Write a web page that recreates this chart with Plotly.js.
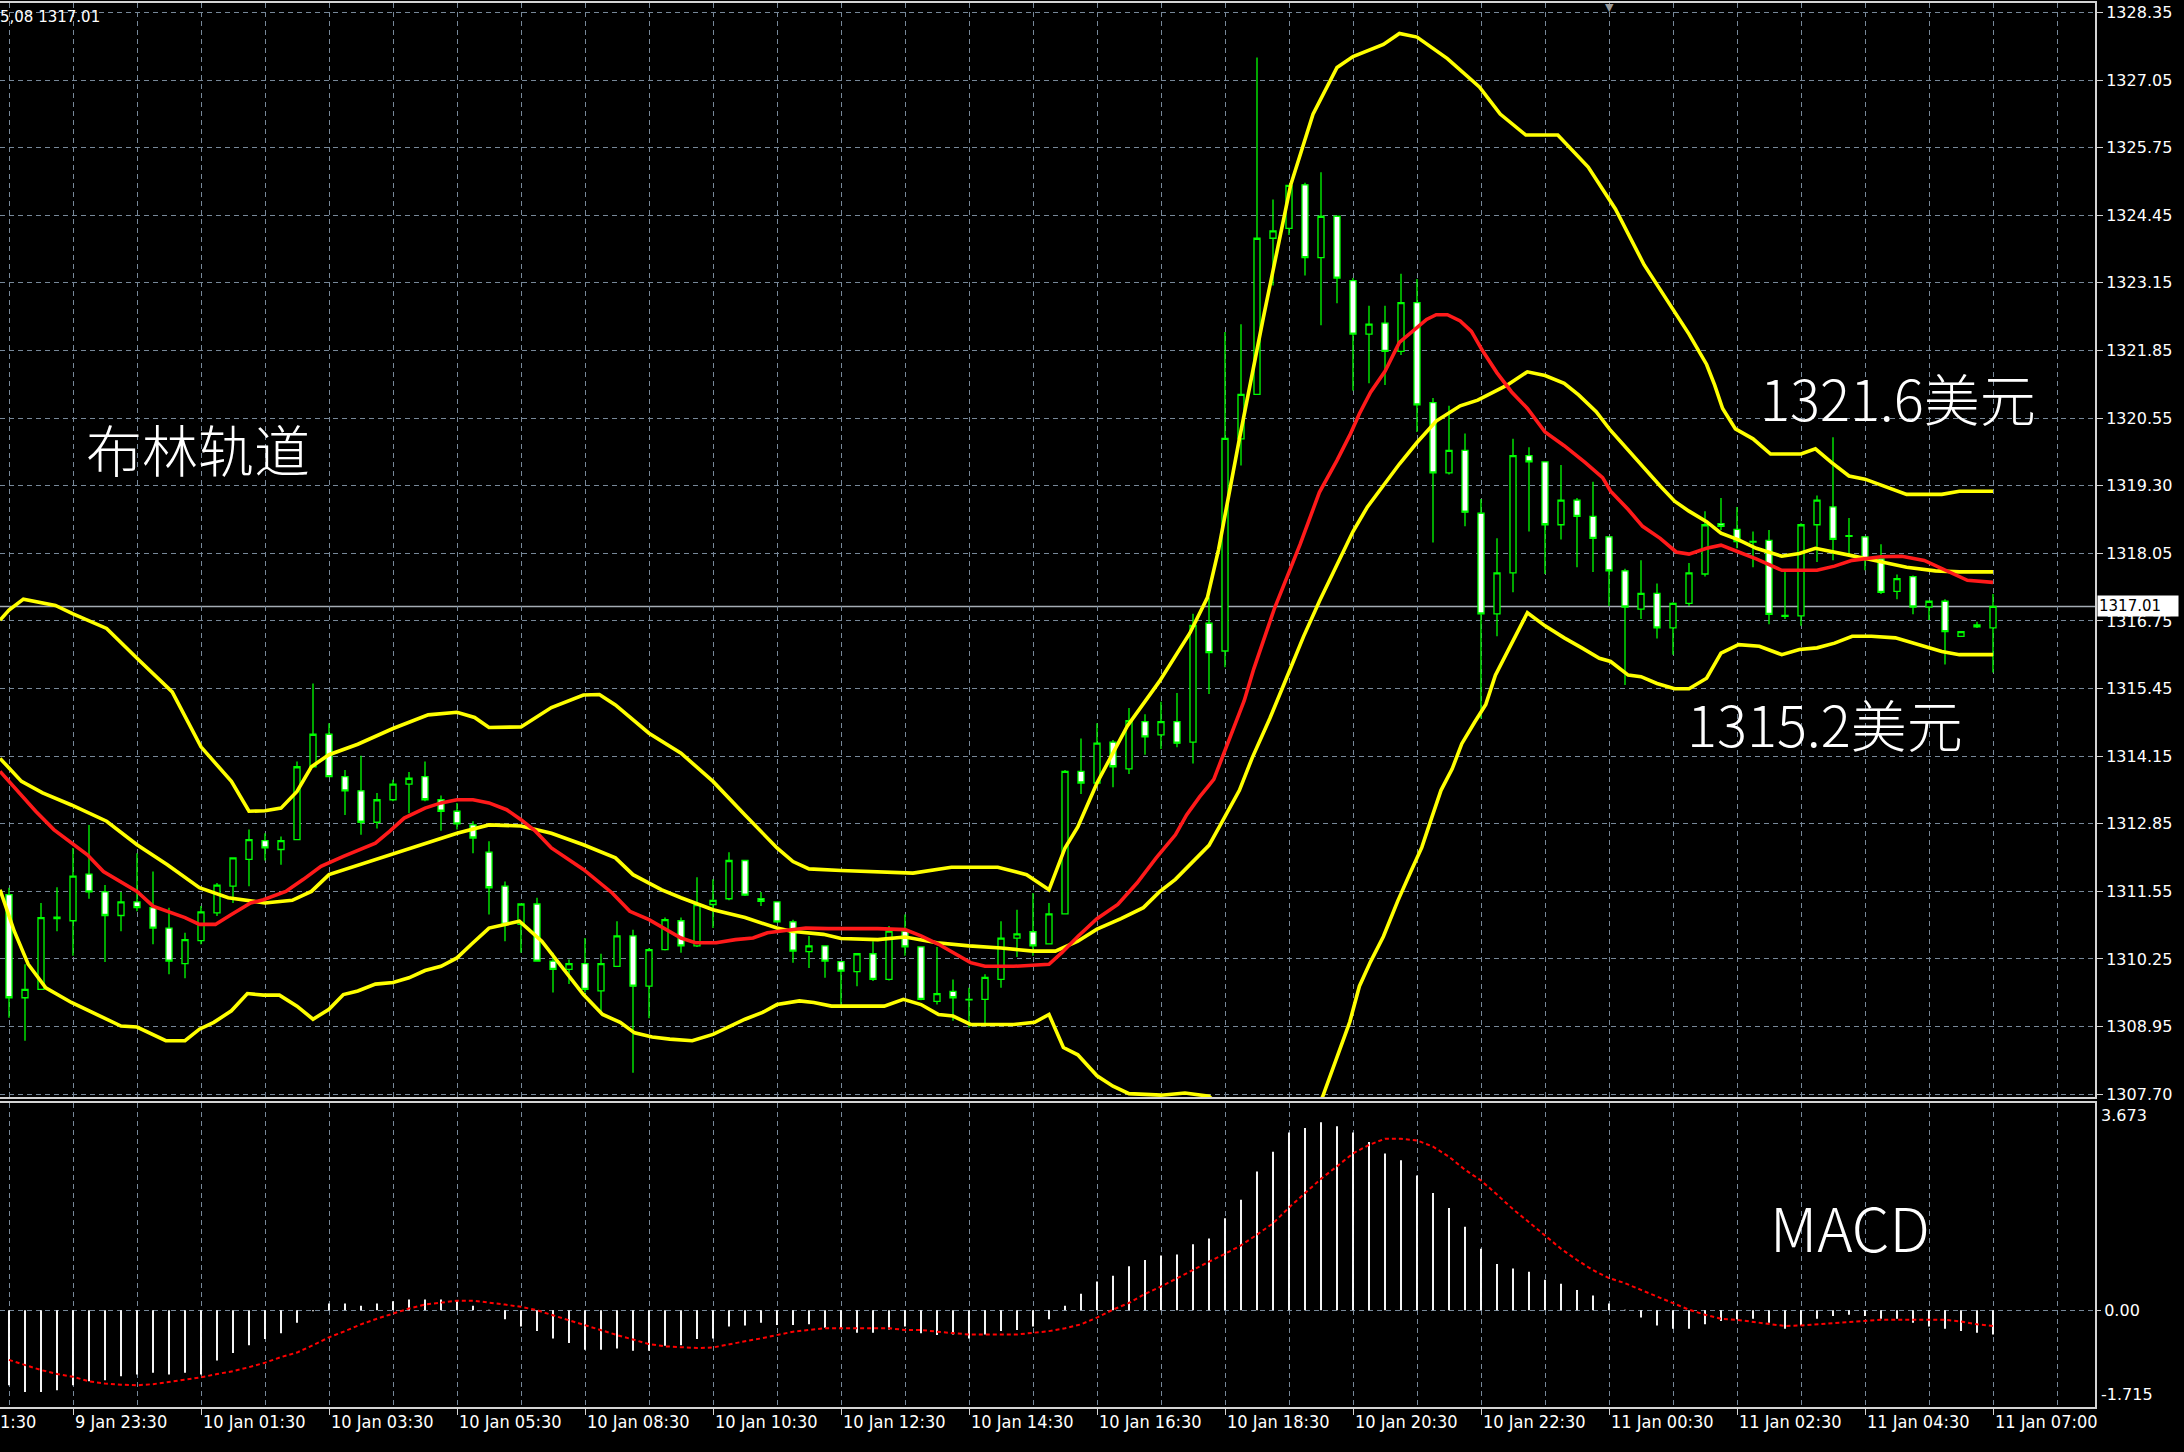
<!DOCTYPE html>
<html>
<head>
<meta charset="utf-8">
<script src="https://cdn.plot.ly/plotly-3.0.1.min.js"></script>
<style>
html,body{margin:0;padding:0;background:#000;}
#chart{width:2184px;height:1452px;}
</style>
</head>
<body>
<div id="chart"></div>
<script>
// ---------------- DATA ----------------
const priceTickLabels = ['1328.35','1327.05','1325.75','1324.45','1323.15','1321.85','1320.55','1319.30','1318.05','1316.75','1315.45','1314.15','1312.85','1311.55','1310.25','1308.95','1307.70'];
const timeTickBars = [-4,4,12,20,28,36,44,52,60,68,76,84,92,100,108,116,124];
const timeTickLabels = ['1:30','9 Jan 23:30','10 Jan 01:30','10 Jan 03:30','10 Jan 05:30','10 Jan 08:30','10 Jan 10:30','10 Jan 12:30','10 Jan 14:30','10 Jan 16:30','10 Jan 18:30','10 Jan 20:30','10 Jan 22:30','11 Jan 00:30','11 Jan 02:30','11 Jan 04:30','11 Jan 07:00'];
const gridBars = [0,4,8,12,16,20,24,28,32,36,40,44,48,52,56,60,64,68,72,76,80,84,88,92,96,100,104,108,112,116,120,124,128];
const lastPrice = 1317.01;
const headerText = '5,08 1317.01';

const open = [
1311.51,1309.54,1309.70,1311.05,1311.01,1311.90,1311.56,1311.11,1311.37,1311.26,
1310.87,1310.19,1310.63,1311.16,1311.67,1312.18,1312.54,1312.37,1312.56,1313.95,
1314.57,1313.76,1313.49,1312.89,1313.32,1313.62,1313.76,1313.32,1313.10,1312.84,
1312.32,1311.67,1310.94,1311.33,1310.24,1310.08,1310.19,1309.67,1310.14,1310.72,
1309.76,1310.46,1311.01,1310.53,1311.32,1311.43,1312.16,1311.43,1311.37,1310.99,
1310.42,1310.53,1310.23,1310.04,1310.38,1309.89,1310.81,1310.51,1309.47,1309.66,
1309.51,1309.51,1309.89,1310.68,1310.80,1310.57,1311.14,1313.86,1313.64,1314.42,
1313.91,1314.81,1314.56,1314.81,1314.42,1316.69,1316.16,1320.21,1321.06,1324.04,
1324.23,1325.06,1323.67,1324.46,1323.23,1322.21,1322.42,1321.88,1322.81,1320.90,
1319.56,1319.99,1318.79,1316.87,1317.65,1319.89,1319.77,1318.57,1319.04,1318.73,
1318.34,1317.69,1316.96,1317.26,1316.60,1317.07,1317.63,1318.59,1318.48,1318.25,
1318.27,1316.84,1316.83,1318.57,1318.91,1318.36,1318.34,1317.92,1317.30,1317.58,
1317.00,1317.11,1316.44,1316.62,1316.60];
const high = [
1311.64,1310.18,1311.35,1311.65,1312.40,1312.84,1311.69,1311.56,1312.30,1311.95,
1311.26,1310.78,1311.29,1311.73,1312.21,1312.75,1312.68,1312.62,1314.05,1315.54,
1314.78,1313.89,1314.16,1313.45,1313.70,1313.85,1314.05,1313.40,1313.26,1312.91,
1312.53,1311.76,1311.33,1311.45,1310.40,1310.27,1310.68,1310.38,1311.00,1310.84,
1310.49,1311.07,1311.07,1311.84,1311.80,1312.32,1312.16,1311.56,1311.37,1311.03,
1310.72,1310.53,1310.23,1310.38,1310.62,1310.91,1311.13,1310.51,1310.51,1309.89,
1309.73,1309.99,1311.00,1311.22,1311.54,1311.35,1313.89,1314.49,1314.78,1314.46,
1315.07,1314.95,1315.19,1315.36,1316.87,1317.18,1322.25,1322.40,1327.49,1324.78,
1325.05,1325.10,1325.30,1324.46,1323.28,1322.75,1322.75,1323.36,1323.26,1320.99,
1320.84,1320.31,1319.06,1318.31,1320.21,1320.05,1319.77,1319.71,1319.08,1319.39,
1318.34,1317.73,1317.89,1317.45,1317.09,1317.84,1318.83,1319.08,1318.91,1318.44,
1318.47,1317.70,1318.60,1319.13,1320.24,1318.70,1318.34,1318.20,1317.62,1317.60,
1317.12,1317.15,1316.54,1316.72,1317.25];
const low = [
1309.16,1308.72,1309.70,1310.81,1310.34,1311.43,1310.22,1310.81,1311.19,1310.56,
1309.99,1309.91,1310.56,1311.10,1311.35,1311.67,1312.16,1312.08,1312.56,1313.95,
1313.76,1313.03,1312.65,1312.77,1313.29,1313.06,1313.29,1312.73,1312.75,1312.30,
1311.13,1310.62,1310.40,1310.24,1309.64,1309.80,1309.64,1309.22,1310.13,1308.11,
1309.15,1310.44,1310.40,1310.51,1310.87,1311.40,1311.48,1311.29,1310.97,1310.21,
1310.11,1309.92,1309.41,1309.76,1309.86,1309.87,1310.34,1309.49,1309.41,1309.10,
1308.97,1309.03,1309.73,1310.32,1310.34,1310.56,1311.14,1313.43,1313.64,1313.56,
1313.81,1314.18,1314.29,1314.32,1314.01,1315.34,1315.85,1319.70,1321.06,1323.14,
1324.10,1323.33,1322.38,1322.80,1321.13,1321.27,1321.24,1321.81,1320.34,1318.23,
1319.53,1318.54,1314.87,1316.44,1317.28,1318.44,1317.63,1318.29,1317.76,1317.67,
1317.02,1315.51,1316.77,1316.40,1316.09,1317.02,1317.58,1318.47,1318.12,1317.76,
1316.67,1316.77,1316.64,1317.86,1317.89,1317.96,1317.70,1317.25,1317.15,1316.86,
1316.75,1315.90,1316.43,1316.60,1315.75];
const close = [
1309.54,1309.70,1311.07,1311.08,1311.86,1311.56,1311.11,1311.37,1311.26,1310.87,
1310.24,1310.65,1311.18,1311.69,1312.21,1312.56,1312.40,1312.54,1313.95,1314.57,
1313.76,1313.49,1312.89,1313.32,1313.62,1313.73,1313.32,1313.10,1312.86,1312.59,
1311.64,1310.94,1311.33,1310.24,1310.08,1310.19,1309.70,1310.19,1310.72,1309.76,
1310.46,1311.03,1310.53,1311.32,1311.40,1312.16,1311.50,1311.38,1310.99,1310.43,
1310.53,1310.24,1310.05,1310.38,1309.89,1310.81,1310.51,1309.51,1309.62,1309.54,
1309.50,1309.93,1310.68,1310.76,1310.53,1311.14,1313.86,1313.64,1314.40,1313.95,
1314.83,1314.52,1314.81,1314.40,1316.65,1316.13,1320.22,1321.06,1324.04,1324.18,
1325.05,1323.67,1324.46,1323.28,1322.21,1322.40,1321.88,1322.81,1320.86,1319.56,
1319.99,1318.81,1316.87,1317.65,1319.89,1319.77,1318.57,1319.04,1318.73,1318.31,
1317.69,1317.00,1317.26,1316.60,1317.07,1317.65,1318.57,1318.54,1318.25,1318.24,
1316.86,1316.82,1318.57,1319.04,1318.29,1318.35,1317.92,1317.28,1317.54,1317.00,
1317.11,1316.53,1316.53,1316.66,1317.01];

// Bollinger upper / middle / lower (yellow) and moving average (red), read at bar positions
const upperBandX = [-0.56,0,0.9,2.9,4.0,6.1,8.0,10.2,12.0,13.9,15.0,16.0,17.0,18.0,18.9,20.0,21.8,24.0,26.2,28.0,29.1,30.0,32.0,33.9,35.9,36.9,37.9,40.0,42.0,44.0,46.0,48.0,49.0,50.0,52.0,54.3,56.5,58.9,61.8,63.6,65.0,66.0,66.8,68.0,69.9,71.9,73.8,74.9,75.6,76.9,78.4,80.1,81.5,83.0,84.0,85.9,86.9,88.0,89.9,91.9,93.2,94.8,96.8,98.7,100.4,102.2,103.9,105.0,106.1,106.6,107.1,107.9,109.0,110.1,112.0,112.9,113.9,115.0,116.0,117.5,118.6,120.8,121.9,124.0];
const upperBandY = [1316.75,1316.94,1317.15,1317.03,1316.87,1316.59,1316.02,1315.38,1314.33,1313.67,1313.10,1313.11,1313.16,1313.48,1313.95,1314.18,1314.38,1314.68,1314.94,1314.99,1314.89,1314.70,1314.71,1315.08,1315.32,1315.33,1315.13,1314.59,1314.21,1313.67,1313.03,1312.40,1312.14,1312.00,1311.97,1311.95,1311.92,1312.03,1312.03,1311.89,1311.60,1312.40,1312.80,1313.64,1314.73,1315.58,1316.50,1317.18,1318.10,1320.21,1322.53,1325.05,1326.41,1327.30,1327.51,1327.74,1327.95,1327.88,1327.47,1326.93,1326.41,1326.01,1326.01,1325.40,1324.60,1323.53,1322.74,1322.21,1321.63,1321.24,1320.79,1320.40,1320.21,1319.92,1319.92,1320.02,1319.76,1319.50,1319.44,1319.28,1319.15,1319.15,1319.21,1319.21];
const middleBandX = [-0.56,0.78,2.1,3.9,6.1,8.0,9.9,11.9,13.7,16.0,17.7,18.9,20.0,22.0,24.0,26.0,28.0,30.0,32.0,33.9,35.9,37.9,39.0,40.8,42.0,44.0,46.0,48.0,48.9,50.9,52.0,54.3,56.0,58.0,60.0,62.0,64.0,65.4,66.8,68.0,69.5,70.9,71.9,72.9,74.0,75.0,75.8,76.9,77.7,78.8,79.8,80.9,81.9,82.9,84.0,84.9,85.9,86.9,88.0,89.2,90.7,91.8,93.6,94.9,96.0,97.2,98.1,99.2,100.1,101.2,102.3,103.2,104.1,105.0,106.1,107.0,108.1,109.2,110.8,111.9,112.9,113.9,115.0,116.1,117.0,118.6,120.4,121.9,124.0];
const middleBandY = [1314.11,1313.67,1313.45,1313.22,1312.91,1312.46,1312.08,1311.64,1311.45,1311.35,1311.40,1311.57,1311.89,1312.09,1312.28,1312.49,1312.68,1312.84,1312.82,1312.68,1312.46,1312.21,1311.89,1311.60,1311.45,1311.22,1311.07,1310.87,1310.81,1310.75,1310.67,1310.65,1310.70,1310.59,1310.53,1310.49,1310.43,1310.43,1310.62,1310.85,1311.05,1311.26,1311.56,1311.80,1312.14,1312.45,1312.89,1313.50,1314.12,1314.87,1315.61,1316.43,1317.11,1317.73,1318.44,1318.91,1319.32,1319.73,1320.14,1320.55,1320.84,1320.95,1321.23,1321.49,1321.42,1321.27,1321.05,1320.73,1320.37,1319.99,1319.60,1319.31,1319.02,1318.83,1318.63,1318.41,1318.28,1318.12,1317.97,1318.02,1318.12,1318.05,1317.99,1317.92,1317.86,1317.76,1317.69,1317.67,1317.67];
const lowerBandX = [-0.56,0.33,1.2,2.3,3.9,5.5,7.0,8.0,8.8,9.8,11.0,11.9,12.8,13.9,14.9,15.9,16.9,18.0,19.0,20.0,20.9,21.8,22.9,24.0,25.0,26.0,27.0,28.0,28.9,30.0,31.0,31.9,33.3,34.6,35.9,37.1,38.2,39.1,40.2,41.3,42.7,44.0,45.1,46.0,47.1,48.0,49.4,50.3,51.4,52.9,54.7,55.9,57.0,58.1,59.0,60.1,61.0,62.8,64.1,65.0,65.9,66.8,68.0,69.0,70.0,72.0,73.5,75.0,76.5,78.5,80.5,81.5,82.1,83.0,83.8,84.4,85.1,85.9,86.8,87.6,88.3,88.9,89.5,90.2,90.8,91.6,92.3,92.9,94.0,94.9,96.0,97.2,98.3,99.4,100.1,101.2,102.0,103.0,104.1,105.0,106.1,107.0,108.1,109.4,110.8,111.9,113.0,114.1,115.2,116.4,117.9,119.7,120.8,121.9,124.0];
const lowerBandY = [1311.60,1310.81,1310.18,1309.73,1309.45,1309.22,1309.00,1308.98,1308.87,1308.72,1308.72,1308.94,1309.07,1309.29,1309.62,1309.59,1309.59,1309.38,1309.13,1309.32,1309.60,1309.67,1309.80,1309.83,1309.92,1310.06,1310.14,1310.30,1310.56,1310.87,1310.94,1311.00,1310.62,1310.11,1309.60,1309.22,1309.07,1308.87,1308.79,1308.75,1308.72,1308.84,1309.00,1309.13,1309.26,1309.41,1309.48,1309.45,1309.38,1309.38,1309.38,1309.51,1309.41,1309.22,1309.19,1309.03,1309.03,1309.03,1309.07,1309.22,1308.59,1308.45,1308.05,1307.85,1307.71,1307.68,1307.72,1307.66,1307.20,1306.60,1306.80,1307.30,1307.65,1308.40,1309.08,1309.76,1310.23,1310.71,1311.39,1311.94,1312.41,1312.96,1313.50,1313.91,1314.39,1314.80,1315.14,1315.70,1316.35,1316.89,1316.64,1316.41,1316.22,1316.02,1315.96,1315.70,1315.67,1315.54,1315.44,1315.44,1315.64,1316.12,1316.28,1316.25,1316.09,1316.19,1316.22,1316.31,1316.44,1316.44,1316.41,1316.25,1316.15,1316.09,1316.09];
const maX = [-0.56,0.55,1.67,2.8,3.9,4.9,5.9,7.0,8.0,9.0,9.9,11.0,11.9,12.9,13.9,15.1,15.9,17.3,18.4,19.5,20.9,22.0,22.9,23.8,24.7,26.0,27.0,28.0,29.0,30.0,31.1,32.0,32.9,33.9,35.9,37.7,38.8,40.0,41.1,42.0,42.9,44.2,45.4,46.5,47.4,48.9,49.8,51.2,53.0,54.3,56.0,57.0,58.1,59.2,60.1,61.0,62.8,65.0,65.8,66.8,68.0,69.3,70.5,71.7,72.9,73.6,74.4,75.3,75.9,76.5,77.2,77.8,78.4,79.1,79.9,80.7,81.9,83.0,83.8,84.4,85.1,86.0,86.9,87.8,88.6,89.2,89.9,90.7,91.4,92.1,93.0,93.9,94.9,96.0,97.2,98.5,99.6,100.1,101.2,102.1,103.2,104.2,105.0,106.1,107.0,108.1,109.2,110.8,112.1,113.0,114.1,115.2,117.0,118.3,119.7,121.0,122.4,124.0];
const maY = [1313.86,1313.48,1313.10,1312.75,1312.49,1312.27,1311.95,1311.76,1311.57,1311.29,1311.19,1311.07,1310.94,1310.94,1311.13,1311.35,1311.41,1311.57,1311.80,1312.05,1312.24,1312.37,1312.49,1312.72,1312.97,1313.16,1313.26,1313.32,1313.32,1313.26,1313.13,1312.94,1312.72,1312.40,1311.99,1311.54,1311.19,1311.03,1310.84,1310.68,1310.59,1310.59,1310.65,1310.68,1310.78,1310.84,1310.87,1310.86,1310.87,1310.86,1310.84,1310.72,1310.56,1310.37,1310.21,1310.14,1310.14,1310.18,1310.40,1310.71,1311.05,1311.32,1311.73,1312.21,1312.65,1313.03,1313.37,1313.71,1314.18,1314.66,1315.21,1315.82,1316.36,1316.98,1317.59,1318.20,1319.19,1319.80,1320.28,1320.69,1321.10,1321.50,1322.05,1322.29,1322.49,1322.58,1322.58,1322.46,1322.26,1321.89,1321.47,1321.11,1320.79,1320.34,1320.08,1319.76,1319.47,1319.21,1318.86,1318.54,1318.31,1318.05,1318.01,1318.12,1318.18,1318.05,1317.92,1317.70,1317.70,1317.70,1317.78,1317.89,1317.96,1317.97,1317.89,1317.70,1317.51,1317.47];

// MACD histogram (white) and signal (red dotted)
const macdHist = [
-1.33,-1.45,-1.45,-1.42,-1.33,-1.26,-1.24,-1.17,-1.14,-1.11,
-1.14,-1.11,-1.14,-0.89,-0.76,-0.62,-0.51,-0.41,-0.22,-0.02,
0.12,0.12,0.08,0.12,0.16,0.19,0.19,0.19,0.17,0.08,
0.01,-0.16,-0.29,-0.37,-0.50,-0.58,-0.70,-0.70,-0.68,-0.72,
-0.72,-0.63,-0.62,-0.51,-0.50,-0.29,-0.27,-0.22,-0.26,-0.26,
-0.25,-0.31,-0.33,-0.40,-0.40,-0.34,-0.29,-0.41,-0.44,-0.43,
-0.50,-0.43,-0.37,-0.35,-0.29,-0.16,0.08,0.29,0.51,0.61,
0.78,0.89,0.97,0.99,1.17,1.27,1.63,1.96,2.46,2.81,
3.15,3.23,3.33,3.26,3.15,2.98,2.78,2.66,2.39,2.08,
1.81,1.48,1.09,0.82,0.74,0.68,0.54,0.47,0.36,0.26,
0.12,0.01,-0.13,-0.27,-0.33,-0.33,-0.25,-0.19,-0.16,-0.15,
-0.22,-0.33,-0.27,-0.15,-0.10,-0.08,-0.10,-0.15,-0.15,-0.22,
-0.29,-0.33,-0.37,-0.40,-0.43];
const macdSignal = [
-0.88,-0.97,-1.06,-1.13,-1.18,-1.26,-1.30,-1.32,-1.33,-1.31,
-1.27,-1.23,-1.19,-1.13,-1.08,-1.01,-0.93,-0.83,-0.75,-0.62,
-0.48,-0.37,-0.25,-0.15,-0.06,0.03,0.10,0.14,0.17,0.17,
0.14,0.10,0.06,0.00,-0.09,-0.18,-0.27,-0.35,-0.44,-0.52,
-0.60,-0.64,-0.66,-0.67,-0.66,-0.60,-0.55,-0.50,-0.44,-0.38,
-0.35,-0.32,-0.32,-0.32,-0.32,-0.32,-0.35,-0.35,-0.38,-0.40,
-0.43,-0.43,-0.43,-0.43,-0.40,-0.37,-0.32,-0.25,-0.13,0.01,
0.13,0.29,0.42,0.57,0.71,0.86,1.00,1.15,1.34,1.54,
1.82,2.08,2.33,2.55,2.78,2.93,3.04,3.04,3.01,2.90,
2.72,2.49,2.30,2.05,1.79,1.56,1.32,1.09,0.89,0.71,
0.57,0.48,0.36,0.24,0.13,0.01,-0.08,-0.15,-0.17,-0.21,
-0.25,-0.28,-0.27,-0.25,-0.22,-0.21,-0.18,-0.17,-0.17,-0.17,
-0.17,-0.17,-0.20,-0.25,-0.28];
const macdMaxLabel = '3.673', macdMinLabel = '-1.715';

// ---------------- CHART ----------------
const bars = open.map((v, i) => i);
const X0 = -0.5625, X1 = 130.375;
const pTop = parseFloat(priceTickLabels[0]);
const pBot = parseFloat(priceTickLabels[priceTickLabels.length - 1]);
const priceTickVals = priceTickLabels.map((t, k) => pTop - k * (pTop - pBot) / (priceTickLabels.length - 1));

const GRID = '#778899';
const FRAME = '#d4d4d4';
const YELLOW = '#ffff00';
const RED = '#ff1a1a';
const GREEN = '#00ff00';

const traces = [
  {type:'candlestick', x:bars, open:open, high:high, low:low, close:close,
   xaxis:'x', yaxis:'y', whiskerwidth:0, hoverinfo:'skip',
   increasing:{line:{color:GREEN, width:1.3}, fillcolor:'#000000'},
   decreasing:{line:{color:GREEN, width:1.3}, fillcolor:'#ffffff'}},
  {type:'scatter', mode:'lines', x:upperBandX, y:upperBandY, xaxis:'x', yaxis:'y', line:{color:YELLOW, width:3.6}, hoverinfo:'skip'},
  {type:'scatter', mode:'lines', x:middleBandX, y:middleBandY, xaxis:'x', yaxis:'y', line:{color:YELLOW, width:3.6}, hoverinfo:'skip'},
  {type:'scatter', mode:'lines', x:lowerBandX, y:lowerBandY, xaxis:'x', yaxis:'y', line:{color:YELLOW, width:3.6}, hoverinfo:'skip'},
  {type:'scatter', mode:'lines', x:maX, y:maY, xaxis:'x', yaxis:'y', line:{color:RED, width:3.6}, hoverinfo:'skip'},
  {type:'bar', x:bars, y:macdHist, xaxis:'x2', yaxis:'y2', width:0.12, marker:{color:'#ffffff', line:{width:0}}, hoverinfo:'skip'},
  {type:'scatter', mode:'lines', x:bars, y:macdSignal, xaxis:'x2', yaxis:'y2', line:{color:'#ff0000', width:2, dash:'4px,3px'}, hoverinfo:'skip'}
];

const PLOT_W = 2095, PLOT_TOP = 3, PLOT_BOTTOM = 1407, PLOT_H = PLOT_BOTTOM - PLOT_TOP;
const pxX = px => px / PLOT_W;
const pxY = py => (PLOT_BOTTOM - py) / PLOT_H;
const barToPaper = b => (b - X0) / (X1 - X0);

const axisFont = {family:'DejaVu Sans, Verdana, sans-serif', size:16, color:'#ffffff'};
const timeFont = {family:'Liberation Sans Narrow, DejaVu Sans Condensed, Arial Narrow, sans-serif', size:18, color:'#ffffff'};
const cjkFont = {family:'Noto Sans CJK SC, Noto Sans, sans-serif', size:56, color:'#ffffff', weight:300};

const annotations = [];
timeTickBars.forEach((b, k) => {
  const left = b < X0;
  annotations.push({xref:'paper', yref:'paper', x:left ? 0 : barToPaper(b), y:pxY(1409), xanchor:'left', yanchor:'top',
    text:timeTickLabels[k], showarrow:false, font:timeFont, xshift:left ? -2 : 0});
});
annotations.push({xref:'paper', yref:'y', x:1, y:lastPrice, xanchor:'left', yanchor:'middle', xshift:2,
  text:lastPrice.toFixed(2), showarrow:false, bgcolor:'#ffffff', font:{family:'DejaVu Sans, sans-serif', size:15, color:'#000000'},
  width:78, align:'left', borderpad:1});
annotations.push({xref:'paper', yref:'paper', x:1, y:pxY(1104), xanchor:'left', yanchor:'top', xshift:4,
  text:macdMaxLabel, showarrow:false, font:axisFont});
annotations.push({xref:'paper', yref:'paper', x:1, y:pxY(1406), xanchor:'left', yanchor:'bottom', xshift:4,
  text:macdMinLabel, showarrow:false, font:axisFont});
annotations.push({xref:'paper', yref:'paper', x:0, y:pxY(6), xanchor:'left', yanchor:'top', xshift:-2,
  text:headerText, showarrow:false, font:{family:'DejaVu Sans, sans-serif', size:15, color:'#ffffff'}});
annotations.push({xref:'paper', yref:'paper', x:barToPaper(100), y:1, xanchor:'center', yanchor:'top', yshift:4,
  text:'▼', showarrow:false, font:{family:'DejaVu Sans, sans-serif', size:11, color:'#9a9a9a'}});
annotations.push({xref:'paper', yref:'paper', x:pxX(84), y:pxY(448), xanchor:'left', yanchor:'middle',
  text:'布林轨道', showarrow:false, font:cjkFont});
annotations.push({xref:'paper', yref:'paper', x:pxX(1758), y:pxY(396), xanchor:'left', yanchor:'middle',
  text:'1321.6美元', showarrow:false, font:cjkFont});
annotations.push({xref:'paper', yref:'paper', x:pxX(1685), y:pxY(722), xanchor:'left', yanchor:'middle',
  text:'1315.2美元', showarrow:false, font:cjkFont});
annotations.push({xref:'paper', yref:'paper', x:pxX(1768), y:pxY(1225), xanchor:'left', yanchor:'middle',
  text:'MACD', showarrow:false, font:{family:'Noto Sans CJK SC, Noto Sans, sans-serif', size:60, color:'#ffffff', weight:300}});

const layout = {
  width:2184, height:1452,
  paper_bgcolor:'#000000', plot_bgcolor:'#000000',
  margin:{l:0, r:89, t:PLOT_TOP, b:1452 - PLOT_BOTTOM, pad:0},
  showlegend:false,
  boxgap:0.46,
  xaxis:{domain:[0,1], anchor:'y', range:[X0, X1], type:'linear',
    tickmode:'array', tickvals:gridBars, showticklabels:false, ticks:'',
    showgrid:true, gridcolor:GRID, gridwidth:1, griddash:'5px,4px',
    zeroline:false, showline:true, mirror:true, linecolor:FRAME, linewidth:2,
    rangeslider:{visible:false}, fixedrange:true},
  yaxis:{domain:[pxY(1097), 1], anchor:'x', side:'right', range:[1307.645, 1328.531],
    tickmode:'array', tickvals:priceTickVals, ticktext:priceTickLabels,
    ticks:'outside', ticklen:6, tickcolor:FRAME, tickfont:axisFont,
    showgrid:true, gridcolor:GRID, gridwidth:1, griddash:'5px,4px',
    zeroline:false, showline:true, mirror:true, linecolor:FRAME, linewidth:2, fixedrange:true},
  xaxis2:{domain:[0,1], anchor:'y2', range:[X0, X1], type:'linear',
    tickmode:'array', tickvals:timeTickBars, showticklabels:false,
    ticks:'outside', ticklen:6, tickcolor:FRAME,
    showgrid:true, gridcolor:GRID, gridwidth:1, griddash:'5px,4px',
    minor:{tickmode:'array', tickvals:gridBars, showgrid:true, gridcolor:GRID, gridwidth:1, griddash:'5px,4px', ticks:''},
    zeroline:false, showline:true, mirror:true, linecolor:FRAME, linewidth:2, fixedrange:true},
  yaxis2:{domain:[0, pxY(1103)], anchor:'x2', side:'right', range:[-1.715, 3.673],
    tickmode:'array', tickvals:[0], ticktext:['0.00'],
    ticks:'outside', ticklen:4, tickcolor:FRAME, tickfont:axisFont,
    showgrid:true, gridcolor:GRID, gridwidth:1, griddash:'5px,4px',
    zeroline:false, showline:true, mirror:true, linecolor:FRAME, linewidth:2, fixedrange:true},
  shapes:[
    {type:'line', xref:'paper', x0:0, x1:1, yref:'y', y0:lastPrice, y1:lastPrice,
     line:{color:'#a4acb4', width:1.5}, layer:'between'}
  ],
  annotations:annotations
};

Plotly.newPlot('chart', traces, layout, {staticPlot:true, displayModeBar:false});
</script>
</body>
</html>
